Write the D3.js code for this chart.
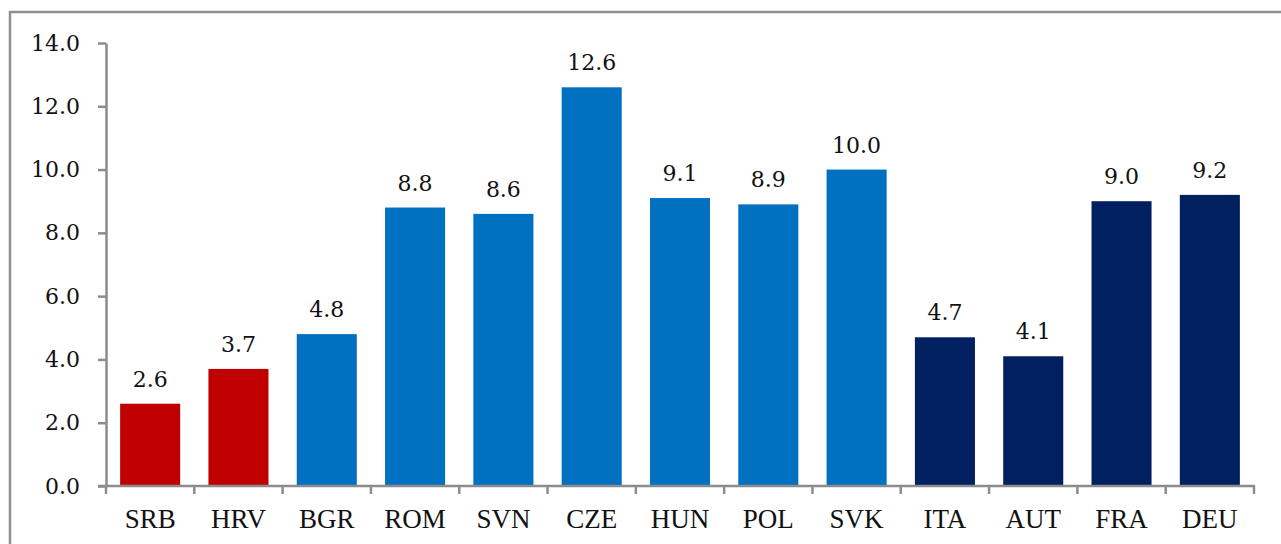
<!DOCTYPE html>
<html><head><meta charset="utf-8">
<script src="https://cdn.jsdelivr.net/npm/d3@7"></script>
<style>body{margin:0;background:#fff;}svg{display:block;}</style>
</head><body>
<svg id="c" width="1281" height="544"></svg>
<script>
const categories = ["SRB","HRV","BGR","ROM","SVN","CZE","HUN","POL","SVK","ITA","AUT","FRA","DEU"];
const values = [2.6,3.7,4.8,8.8,8.6,12.6,9.1,8.9,10.0,4.7,4.1,9.0,9.2];
const groups = ["red","red","blue","blue","blue","blue","blue","blue","blue","navy","navy","navy","navy"];
const yTicks = [0,2,4,6,8,10,12,14];
const colors = {red:"#C00000", blue:"#0070C0", navy:"#002060"};

const numFont = "'DejaVu Serif', serif";
const catFont = "'Liberation Serif', serif";

const svg = d3.select("#c");
// chart border
svg.append("rect").attr("x",10).attr("y",12).attr("width",1300).attr("height",600)
  .attr("fill","none").attr("stroke","#8f8f8f").attr("stroke-width",2.5);

const x0 = 106, x1 = 1254, y0 = 486, y1 = 43;
const x = d3.scaleBand().domain(categories).range([x0,x1]).paddingInner(0.32).paddingOuter(0.16);
const y = d3.scaleLinear().domain([0,14]).range([y0,y1]);

const g = svg.append("g");
g.selectAll("rect.bar").data(categories).join("rect").attr("class","bar")
  .attr("x",d=>x(d)).attr("width",x.bandwidth())
  .attr("y",(d,i)=>y(values[i])).attr("height",(d,i)=>y(0)-y(values[i]))
  .attr("fill",(d,i)=>colors[groups[i]]);

g.selectAll("text.val").data(categories).join("text").attr("class","val")
  .attr("x",d=>x(d)+x.bandwidth()/2).attr("y",(d,i)=>y(values[i])-17)
  .attr("text-anchor","middle").attr("font-family",numFont)
  .attr("font-size",22).attr("fill","#111")
  .text((d,i)=>values[i].toFixed(1));

// y axis
const yAxis = d3.axisLeft(y).tickValues(yTicks).tickFormat(d=>d.toFixed(1)).tickSize(8).tickSizeOuter(0).tickPadding(18);
const ya = svg.append("g").attr("transform",`translate(${x0},0)`).call(yAxis);
ya.select(".domain").attr("stroke","#8c8c8c").attr("stroke-width",2.5);
ya.selectAll(".tick line").attr("stroke","#8c8c8c").attr("stroke-width",2.5);
ya.selectAll(".tick text").attr("font-family",numFont).attr("font-size",22).attr("fill","#111");

// x axis with ticks at category boundaries
const bounds = categories.map((d,i)=>x0 + (i+1)*(x1-x0)/categories.length);
const xa = svg.append("g").attr("transform",`translate(0,${y0})`);
xa.append("line").attr("x1",x0-8).attr("x2",x1+1).attr("stroke","#8c8c8c").attr("stroke-width",2.5);
xa.selectAll("line.tk").data([x0].concat(bounds)).join("line").attr("class","tk")
  .attr("x1",d=>d).attr("x2",d=>d).attr("y1",0).attr("y2",8)
  .attr("stroke","#8c8c8c").attr("stroke-width",2.5);
xa.selectAll("text").data(categories).join("text")
  .attr("x",d=>x(d)+x.bandwidth()/2).attr("y",42)
  .attr("text-anchor","middle").attr("font-family",catFont)
  .attr("font-size",27).attr("fill","#111").text(d=>d);
</script>
</body></html>
